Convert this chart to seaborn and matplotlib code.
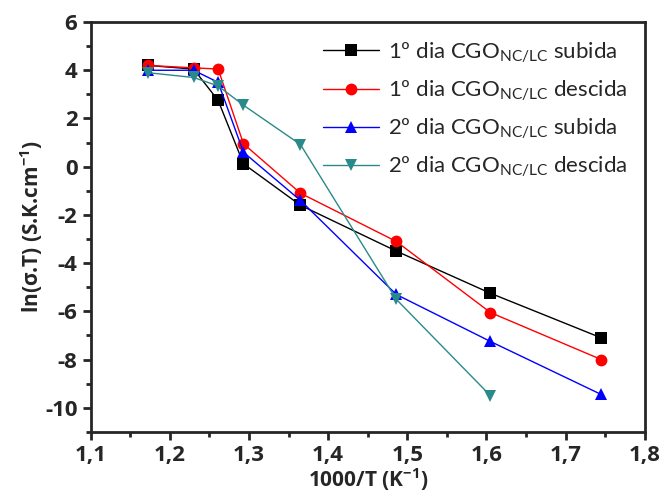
import numpy as np
import pandas as pd
import matplotlib.pyplot as plt
import seaborn as sns

## Data
x_vals = [1.172, 1.230, 1.261, 1.293, 1.365, 1.486, 1.605, 1.745]
dia1_subida = [4.20, 4.05, 2.75, 0.12, -1.60, -3.50, -5.25, -7.10]
dia1_descida = [4.20, 4.10, 4.05, 0.95, -1.10, -3.10, -6.05, -8.00]
dia2_subida = [4.00, 4.00, 3.50, 0.60, -1.40, -5.30, -7.25, -9.45]
dia2_descida = [3.90, 3.70, 3.35, 2.55, 0.92, -5.50, -9.50]

labels = [r'1º dia CGO$_{\mathregular{NC/LC}}$ subida',
          r'1º dia CGO$_{\mathregular{NC/LC}}$ descida',
          r'2º dia CGO$_{\mathregular{NC/LC}}$ subida',
          r'2º dia CGO$_{\mathregular{NC/LC}}$ descida']
series = [dia1_subida, dia1_descida, dia2_subida, dia2_descida]
colors = ['black', '#ff0000', '#0000ff', '#2a8a8a']
markers = ['s', 'o', '^', 'v']

rows = []
for lab, vals in zip(labels, series):
    for xv, yv in zip(x_vals, vals):
        rows.append({'x': xv, 'y': yv, 'serie': lab})
df = pd.DataFrame(rows)

sns.set_style('ticks')
plt.rcParams['font.family'] = ['Open Sans', 'DejaVu Sans']
plt.rcParams['mathtext.fontset'] = 'custom'
plt.rcParams['mathtext.rm'] = 'Lato'
plt.rcParams['mathtext.bf'] = 'Open Sans:bold'
plt.rcParams['axes.unicode_minus'] = False

fig = plt.figure(figsize=(6.62, 5.01), dpi=100)
ax = fig.add_axes([0.137, 0.138, 0.837, 0.818])

sns.lineplot(data=df, x='x', y='y', hue='serie', style='serie',
             hue_order=labels, style_order=labels,
             palette=dict(zip(labels, colors)),
             markers=dict(zip(labels, markers)), dashes=False,
             markersize=8.5, markeredgewidth=0, linewidth=1, sort=False, ax=ax)

ax.set_xlim(1.1, 1.8)
ax.set_ylim(-11, 6)
ax.set_xticks(np.arange(1.1, 1.81, 0.1))
ax.set_xticklabels(['1,1', '1,2', '1,3', '1,4', '1,5', '1,6', '1,7', '1,8'])
ax.set_xticks(np.arange(1.15, 1.8, 0.1), minor=True)
ax.set_yticks(np.arange(-10, 7, 2))
ax.set_yticks(np.arange(-11, 6, 2), minor=True)

for sp in ax.spines.values():
    sp.set_linewidth(2)
ax.tick_params(which='major', direction='out', length=6, width=2, labelsize=16)
ax.tick_params(which='minor', direction='out', length=3.5, width=2)
for t in ax.get_xticklabels() + ax.get_yticklabels():
    t.set_fontweight('bold')

ax.set_xlabel(r'1000/T (K$^{\mathbf{-1}}$)', fontsize=15, fontweight='bold', labelpad=0)
ax.set_ylabel(r'ln(σ.T) (S.K.cm$^{\mathbf{-1}}$)', fontsize=15, fontweight='bold', labelpad=0)

leg = ax.legend(loc='upper right', frameon=False, fontsize=16, handlelength=2.5,
                handletextpad=0.4, labelspacing=0.6, borderaxespad=0.4)
for t in leg.get_texts():
    t.set_family(['Lato', 'DejaVu Sans'])

plt.savefig('out.png', dpi=100)
